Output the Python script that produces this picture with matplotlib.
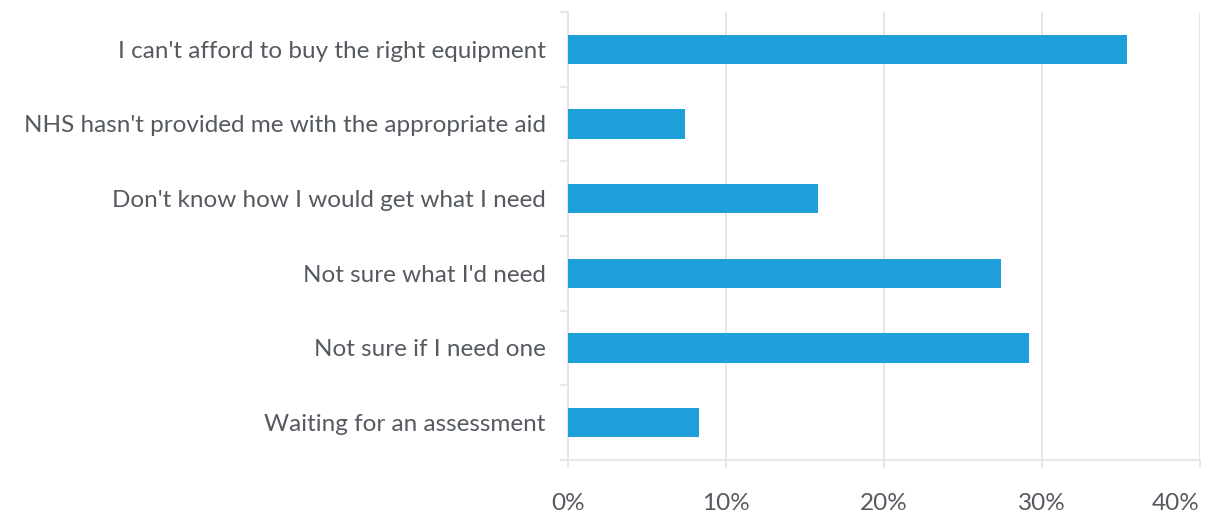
import matplotlib
matplotlib.use("Agg")
import matplotlib.pyplot as plt
from matplotlib.ticker import FixedLocator, FuncFormatter

reasons = [
    "I can't afford to buy the right equipment",
    "NHS hasn't provided me with the appropriate aid",
    "Don't know how I would get what I need",
    "Not sure what I'd need",
    "Not sure if I need one",
    "Waiting for an assessment",
]
shares = [35.4, 7.4, 15.8, 27.4, 29.2, 8.3]
x_ticks = [0, 10, 20, 30, 40]

bar_color = "#1e9fd9"
grid_color = "#e3e3e3"
text_color = "#555a60"

plt.rcParams["font.family"] = ["Lato", "DejaVu Sans"]

fig = plt.figure(figsize=(12.17, 5.19), dpi=100)
ax = fig.add_axes([0.4667, 0.1137, 0.5193, 0.8632])

y = list(range(len(reasons)))
ax.barh(y, shares, height=0.39, color=bar_color, zorder=3)

ax.set_xlim(0, 40)
ax.set_ylim(len(reasons) - 0.5, -0.5)

ax.set_xticks(x_ticks)
ax.xaxis.set_major_formatter(FuncFormatter(lambda v, _: f"{v:.0f}%"))
ax.set_yticks(y)
ax.set_yticklabels(reasons)
ax.yaxis.set_minor_locator(FixedLocator([i - 0.5 for i in range(len(reasons) + 1)]))

ax.grid(axis="x", color=grid_color, linewidth=1.2, zorder=0)
for side in ["top", "right"]:
    ax.spines[side].set_visible(False)
for side in ["left", "bottom"]:
    ax.spines[side].set_color(grid_color)
    ax.spines[side].set_linewidth(1.2)

ax.tick_params(axis="x", length=6, width=1.2, color=grid_color, pad=18,
               labelsize=17.5, labelcolor=text_color)
ax.tick_params(axis="y", which="major", length=0, pad=16,
               labelsize=17.5, labelcolor=text_color)
ax.tick_params(axis="y", which="minor", length=6, width=1.2, color=grid_color)

# keep the last percentage label inside the figure
fig.canvas.draw()
ax.get_xticklabels()[-1].set_horizontalalignment("right")

fig.savefig("out.png", dpi=100, facecolor="white")
